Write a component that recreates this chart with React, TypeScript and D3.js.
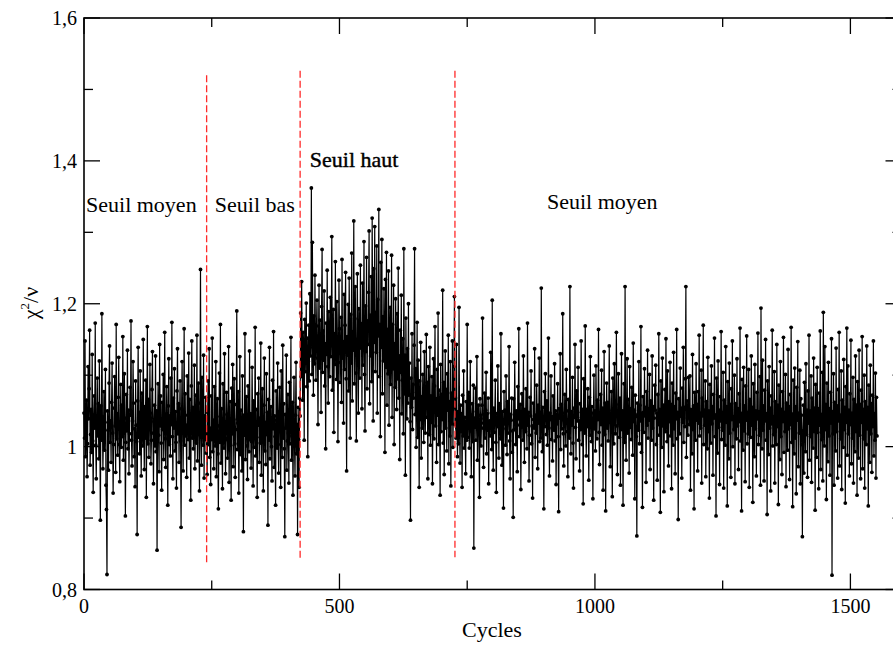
import React from "react";
import * as d3 from "d3";

// chi2/nu values (x1000), one per cycle, by regime
const seuilMoyen1 = [
  1047, 1012, 1148, 986, 1023, 1065, 958, 1004, 1112, 1039, 1081, 1163, 974, 1017, 1052, 992, 1129, 1008, 936, 1044,
  1071, 1026, 1173, 1002, 955, 1038, 1096, 1015, 1060, 983, 1120, 1031, 897, 1057, 1009, 1186, 1042, 969, 1013, 1077,
  995, 1034, 1108, 946, 912, 821, 1050, 1023, 967, 1089, 1141, 1006, 1036, 978, 1062, 1117, 1019, 935, 1003, 1054,
  1098, 1029, 964, 1171, 1011, 1046, 988, 1069, 1125, 1003, 951, 1033, 1087, 999, 1058, 1014, 1154, 981, 1027, 1102,
  1040, 903, 1006, 1073, 1022, 1135, 997, 1051, 962, 1018, 1083, 1044, 1176, 1009, 973, 1036, 1119, 1061, 986, 1025,
  944, 1092, 1030, 1007, 877, 1064, 1139, 1013, 1048, 990, 1106, 1021, 959, 1075, 1038, 1001, 1150, 1027, 968, 1056,
  1012, 1093, 929, 1041, 1168, 1004, 1066, 985, 1024, 1115, 1047, 976, 1009, 1080, 1133, 1019, 948, 1035, 1058, 1001,
  1127, 993, 1050, 855, 1037, 1088, 1016, 965, 1143, 1029, 1071, 1005, 939, 1062, 1024, 1101, 982, 1046, 1160, 1011,
  971, 1039, 1084, 1020, 918, 1057, 1123, 1003, 1043, 987, 1096, 1031, 1174, 1014, 955, 1068, 1026, 1109, 994, 1049,
  1006, 942, 1078, 1137, 1018, 1060, 978, 1035, 1092, 1008, 887, 1053, 1119, 1027, 966, 1041, 1165, 1002, 1074, 1015,
  1030, 957, 1099, 1044, 1010, 1131, 984, 1066, 1023, 925, 1085, 1148, 1012, 1055, 997, 1037, 1114, 969, 1021, 1072,
  1005, 1156, 980, 1046, 1089, 1017, 938, 1061, 1248, 1013, 974, 1097, 1032, 1002, 1128, 956, 1043, 1010, 1069, 991,
];

const seuilBas = [
  1019, 961, 1048, 1092, 1003, 1137, 985, 1026, 947, 1071, 1010, 1152, 993, 1037, 969, 1084, 1015, 1001, 1119, 958,
  1042, 1067, 990, 913, 1029, 1103, 1006, 1171, 977, 1053, 1014, 941, 1088, 1022, 998, 1130, 1035, 962, 1011, 1076,
  1045, 984, 1009, 1140, 950, 1031, 1063, 1002, 925, 1082, 1018, 1115, 972, 1038, 1095, 1004, 957, 1024, 1059, 1190,
  996, 1033, 1077, 935, 1012, 1126, 989, 1051, 1008, 966, 1099, 1027, 881, 1044, 1016, 1158, 982, 1039, 1070, 1001,
  954, 1085, 1023, 993, 1134, 1010, 1046, 970, 1007, 1111, 1036, 945, 1064, 999, 1020, 1167, 987, 1052, 1013, 929,
  1074, 1030, 1096, 978, 1040, 1005, 1145, 960, 1022, 1081, 1011, 938, 1058, 1124, 994, 1034, 975, 1102, 1017, 1048,
  890, 1066, 1009, 1139, 983, 1028, 1056, 1000, 952, 1093, 1025, 1161, 971, 1043, 1014, 918, 1078, 1037, 998, 1117,
  1003, 963, 1049, 1083, 1021, 943, 1106, 1032, 985, 1142, 1012, 1060, 997, 874, 1045, 1026, 1128, 967, 1008, 1073,
  1019, 949, 1090, 1004, 1039, 1153, 981, 1015, 1062, 932, 1027, 1097, 1001, 959, 1044, 1118, 990, 1031, 877, 1055,
  1010, 943, 1068,
];

const seuilHaut = [
  1043, 1187, 1098, 1231, 1122, 1065, 1160, 1143, 1009, 1178, 1105, 1136, 1201, 1084, 1152, 986, 1119, 1170, 1092, 1214,
  1127, 1158, 1362, 1101, 1286, 1139, 1072, 1183, 1116, 1240, 1148, 1093, 1169, 1205, 1124, 1031, 1155, 1226, 1110, 1177,
  1135, 1048, 1196, 1276, 1104, 1162, 1121, 1218, 1085, 1144, 997, 1173, 1129, 1247, 1112, 1061, 1189, 1150, 1098, 1209,
  1126, 1167, 1294, 1079, 1141, 1192, 1020, 1158, 1115, 1259, 1137, 1094, 1203, 1152, 1007, 1118, 1233, 1165, 1090, 1131,
  1181, 1062, 1262, 1124, 1147, 1033, 1213, 1108, 1170, 1244, 1095, 966, 1154, 1128, 1199, 1078, 1236, 1140, 1012, 1185,
  1117, 1271, 1064, 1161, 1135, 1316, 1088, 1179, 1224, 1103, 1008, 1150, 1242, 1119, 1047, 1193, 1166, 1096, 1254, 1138,
  1172, 1053, 1229, 1114, 1157, 1287, 1101, 1022, 1197, 1133, 1265, 1081, 1176, 1143, 1216, 1302, 1060, 1184, 1127, 1238,
  1091, 1320, 1163, 1036, 1249, 1146, 1308, 1105, 1188, 1132, 1281, 1047, 1206, 1155, 1332, 1098, 1171, 1014, 1258, 1139,
  1290, 1074, 1182, 1120, 1221, 1149, 992, 1234, 1111, 1272, 1058, 1164, 1102, 1246, 1030, 1156, 1195, 1087, 1134, 1268,
  1041, 1171, 1109, 1226, 1003, 1144, 1083, 1207, 1122, 1052, 1186, 1095, 1250, 1068, 1127, 982, 1163, 1104, 1212, 1046,
  1093, 1151, 1018, 1277, 1074, 1128, 960, 1180, 1086, 1039, 1137, 1061, 1200, 1072, 1117, 1035, 897, 1096, 1055, 1158,
  1024, 1087, 1068, 1142, 1277, 1045, 1109, 999, 1076, 1174, 1013, 1121, 1059, 943, 1092, 1038, 1146, 984, 1070, 1026,
  1101, 1050, 1006, 1133, 1064, 1019, 1082, 1157, 1041, 1090, 955, 1112, 1063, 1017, 1139, 1002, 1071, 1034, 1098, 948,
  1060, 1123, 1011, 1085, 1168, 1029, 1067, 978, 1108, 1044, 1187, 1003, 1079, 1056, 932, 1115, 1021, 1073, 1038, 1219,
  1005, 1090, 961, 1057, 1134, 1026, 1080, 994, 1102, 1051, 1156, 976, 1063, 1015, 1119, 945, 1075, 1032, 1148, 999,
  1054, 1112, 1210,
];

const seuilMoyen2 = [
  1031, 1068, 1012, 1143, 1026, 986, 1049, 1004, 1195, 1037, 977, 1058, 1021, 1046, 943, 1072, 1015, 1106, 998, 1041,
  1029, 962, 1063, 1009, 1171, 1013, 1052, 1076, 998, 1034, 1119, 1022, 958, 1044, 1060, 1007, 1086, 858, 1040, 1027,
  1082, 1009, 1049, 1126, 981, 1035, 1058, 1017, 929, 1067, 1044, 1001, 1033, 1058, 1180, 1026, 971, 1039, 1075, 1012,
  1051, 1104, 990, 1046, 1023, 1068, 948, 1030, 1036, 1015, 1132, 1047, 996, 1205, 1021, 967, 1054, 1020, 1047, 1093,
  1006, 936, 1046, 1028, 1113, 1041, 984, 1060, 1038, 1011, 1158, 1023, 974, 1049, 1025, 914, 1077, 1032, 1051, 1002,
  1099, 1036, 989, 1063, 1019, 1044, 1140, 1008, 955, 1045, 1037, 1068, 992, 1022, 901, 1067, 1024, 1118, 1047, 1003,
  1050, 1031, 965, 1084, 1039, 1165, 1014, 1030, 1059, 940, 1027, 1074, 1045, 1009, 1127, 1035, 978, 1052, 1021, 1081,
  1035, 997, 1173, 1030, 1048, 952, 1016, 1069, 1043, 1106, 1004, 1029, 928, 1061, 1038, 1026, 1137, 985, 1044, 1019,
  1086, 1041, 969, 1058, 1033, 1124, 1007, 1048, 1012, 1222, 1036, 993, 1055, 1030, 913, 1077, 1028, 1102, 1051, 1017,
  1064, 1002, 1043, 1152, 1026, 959, 1047, 1038, 1099, 1010, 1042, 980, 1071, 1034, 1023, 1116, 1008, 1050, 947, 1045,
  1032, 1088, 1014, 909, 1053, 1040, 1130, 996, 1059, 1025, 1047, 1186, 1018, 973, 1037, 1073, 1034, 1001, 1108, 1050,
  1021, 958, 1066, 1035, 1012, 1224, 1039, 990, 1049, 1030, 1097, 1005, 942, 1054, 1041, 1143, 1027, 983, 1078, 1036,
  1048, 1111, 1009, 1036, 966, 1060, 1024, 1148, 1041, 1003, 1052, 920, 1095, 1043, 1019, 1169, 1035, 987, 1052, 1028,
  1081, 1034, 953, 1069, 1016, 1126, 1040, 1007, 1056, 1032, 927, 1047, 1100, 1025, 1050, 994, 1113, 1038, 1011, 1065,
  1038, 1164, 1020, 975, 1046, 1073, 1031, 1107, 1002, 1054, 939, 1040, 1133, 1017, 1061, 910, 1045, 1089, 1026, 1062,
  1008, 1051, 1141, 1034, 972, 1040, 1077, 1022, 930, 1096, 1043, 1004, 1116, 1046, 1018, 1059, 1160, 1029, 961, 1042,
  1102, 1037, 1013, 1068, 946, 1049, 1130, 1024, 1050, 918, 1041, 1088, 1006, 1224, 1032, 981, 1054, 1123, 1019, 1066,
  1039, 963, 1112, 1027, 1053, 1010, 1083, 1046, 988, 1145, 1035, 1051, 927, 1072, 1042, 1014, 875, 1061, 1045, 1023,
  1119, 1004, 1058, 1036, 1168, 992, 1047, 915, 1070, 1048, 1020, 1109, 1043, 1055, 950, 1077, 1030, 1135, 1012, 1053,
  1037, 1101, 968, 1064, 1041, 1009, 1127, 1026, 1056, 925, 1040, 1086, 1051, 1114, 1003, 1047, 953, 1073, 1031, 1158,
  1016, 1052, 908, 1092, 1044, 999, 1124, 1029, 1058, 937, 1045, 1080, 1021, 1151, 1038, 1007, 1106, 1040, 973, 1063,
  1035, 1118, 1015, 1059, 941, 1089, 1037, 1002, 1132, 1025, 1056, 962, 1075, 1039, 1164, 1011, 1048, 898, 1067, 1042,
  1018, 1110, 1043, 1054, 956, 1082, 1034, 1139, 1006, 1055, 1028, 1095, 1224, 985, 1064, 1040, 1016, 1097, 1052, 1031,
  1099, 939, 1052, 1045, 990, 1129, 1024, 1057, 913, 1076, 1040, 1009, 1116, 1037, 1059, 966, 1077, 1033, 1156, 1015,
  1047, 1026, 1107, 949, 1068, 1043, 1170, 1003, 1051, 1030, 1092, 958, 1063, 1039, 997, 1125, 1021, 1050, 928, 1087,
  1038, 1005, 1113, 1032, 1056, 960, 1073, 1040, 1152, 1014, 1044, 903, 1096, 1045, 991, 1120, 1027, 1051, 947, 1070,
  1036, 1161, 1010, 1048, 1023, 1104, 942, 1065, 1049, 1002, 1140, 1034, 1056, 917, 1091, 1041, 983, 1117, 1019, 1059,
  957, 1081, 1038, 1148, 1000, 1042, 1024, 1100, 948, 1060, 1046, 1011, 1123, 1029, 1053, 968, 1074, 1035, 1166, 1008,
  1046, 910, 1094, 1047, 995, 1111, 1022, 1057, 951, 1085, 1037, 1155, 1004, 1048, 1018, 1108, 943, 1066, 1044, 1013,
  1127, 1030, 1055, 922, 1088, 1041, 986, 1115, 1025, 1050, 959, 1076, 1039, 1159, 1003, 1049, 1016, 1098, 946, 1194,
  1041, 997, 1121, 1023, 1057, 952, 1079, 1036, 1150, 1009, 1046, 905, 1092, 1045, 989, 1112, 1026, 1054, 938, 1071,
  1032, 1163, 1001, 1042, 1017, 1105, 949, 1063, 1050, 1003, 1143, 1028, 1058, 919, 1086, 1040, 982, 1119, 1014, 1052,
  961, 1077, 1035, 1153, 992, 1048, 1021, 1101, 944, 1061, 1043, 995, 1136, 1025, 1056, 954, 1073, 1031, 1167, 1006,
  1044, 916, 1093, 1046, 990, 1110, 1012, 1056, 934, 1083, 1037, 1147, 972, 1047, 1019, 1107, 948, 1067, 1044, 1003,
  874, 1022, 1058, 963, 1090, 1041, 993, 1116, 1017, 1051, 957, 1078, 1033, 1156, 981, 1050, 1014, 1099, 950, 1068,
  1039, 998, 1124, 1021, 1054, 911, 1087, 1045, 985, 1111, 1020, 1053, 941, 1075, 1030, 1162, 968, 1045, 1010, 1104,
  952, 1188, 1036, 1001, 1140, 1024, 1059, 926, 1089, 1040, 979, 1118, 1015, 1053, 960, 1076, 1033, 1151, 820, 1049,
  1018, 1102, 946, 1062, 1043, 994, 1138, 1021, 1057, 956, 1080, 1036, 1160, 973, 1044, 1011, 1106, 940, 1065, 1046,
  999, 1122, 1024, 1055, 921, 1084, 1034, 1166, 988, 1113, 1018, 1051, 959, 1074, 1031, 1149, 976, 1047, 1012, 1097,
  949, 1066, 1042, 993, 1127, 1021, 1058, 932, 1091, 1049, 984, 1135, 1016, 1059, 955, 1079, 1034, 1154, 969, 1052,
  1011, 1100, 942, 1063, 1044, 1003, 1141, 1025, 1055, 917, 1086, 1038, 978, 1114, 1018, 1060, 964, 1072, 1028, 1148,
  987, 1046, 1009, 1103, 956, 1069, 1015,
];

const xTicksMajor = [0, 500, 1000, 1500];
const xTicksMinor = [250, 750, 1250];
const yTicksMajor = [0.8, 1.0, 1.2, 1.4, 1.6];
const yTickLabels = ["0,8", "1", "1,2", "1,4", "1,6"];
const yTicksMinor = [0.9, 1.1, 1.3, 1.5];

// regime change cycles and the value extent of the dashed markers
const boundaryCycles = [240, 423, 726];
const boundaryTop = [1.52, 1.526, 1.526];
const boundaryBottom = [0.837, 0.844, 0.845];

const regionLabels = ["Seuil moyen", "Seuil bas", "Seuil haut", "Seuil moyen"];
const regionLabelCycle = [4, 256, 442, 906];
const regionLabelValue = [1.328, 1.328, 1.391, 1.332];

const W = 893;
const H = 646;
const FONT = "Liberation Serif, Times New Roman, serif";

export default function App() {
  const values = [...seuilMoyen1, ...seuilBas, ...seuilHaut, ...seuilMoyen2].map(
    (v, i) => ({ cycle: i, chi: v / 1000 })
  );

  const x = d3.scaleLinear().domain([0, 1600]).range([84, 901.5]);
  const y = d3.scaleLinear().domain([0.8, 1.6]).range([589.5, 18]);

  const line = d3
    .line<{ cycle: number; chi: number }>()
    .x((d) => x(d.cycle))
    .y((d) => y(d.chi));

  const x0 = x(0);
  const x1 = x(1600);
  const y0 = y(0.8);
  const y1 = y(1.6);
  const majorLen = 16;
  const minorLen = 9;
  const txt = { fontFamily: FONT };

  return (
    <svg
      width={W}
      height={H}
      style={{ position: "absolute", left: 0, top: 0, background: "#fff" }}
    >
      <rect x={0} y={0} width={W} height={H} fill="#fff" />

      {/* data */}
      <path d={line(values) || ""} fill="none" stroke="#000" strokeWidth={1.2} strokeLinejoin="round" />
      {values.map((d) => (
        <circle key={d.cycle} cx={x(d.cycle)} cy={y(d.chi)} r={1.9} fill="#000" />
      ))}

      {/* regime boundaries */}
      {boundaryCycles.map((c, i) => (
        <line
          key={"b" + i}
          x1={x(c)}
          x2={x(c)}
          y1={y(boundaryTop[i])}
          y2={y(boundaryBottom[i])}
          stroke="#ff2a2a"
          strokeWidth={1.3}
          strokeDasharray="7,3"
        />
      ))}

      {/* frame */}
      <rect x={x0} y={y1} width={x1 - x0} height={y0 - y1} fill="none" stroke="#000" strokeWidth={1.6} />

      {/* x ticks (bottom & top, inward) */}
      {xTicksMajor.map((t) => (
        <g key={"xM" + t}>
          <line x1={x(t)} x2={x(t)} y1={y0} y2={y0 - majorLen} stroke="#000" strokeWidth={1.3} />
          <line x1={x(t)} x2={x(t)} y1={y1} y2={y1 + majorLen} stroke="#000" strokeWidth={1.3} />
          <text x={x(t)} y={613} textAnchor="middle" fontSize={20} fill="#000" style={txt}>
            {t}
          </text>
        </g>
      ))}
      {xTicksMinor.map((t) => (
        <g key={"xm" + t}>
          <line x1={x(t)} x2={x(t)} y1={y0} y2={y0 - minorLen} stroke="#000" strokeWidth={1.3} />
          <line x1={x(t)} x2={x(t)} y1={y1} y2={y1 + minorLen} stroke="#000" strokeWidth={1.3} />
        </g>
      ))}

      {/* y ticks (left & right, inward) */}
      {yTicksMajor.map((t, i) => (
        <g key={"yM" + t}>
          <line x1={x0} x2={x0 + majorLen} y1={y(t)} y2={y(t)} stroke="#000" strokeWidth={1.3} />
          <line x1={x1} x2={x1 - majorLen} y1={y(t)} y2={y(t)} stroke="#000" strokeWidth={1.3} />
          <text x={77} y={y(t) + 7} textAnchor="end" fontSize={20} fill="#000" style={txt}>
            {yTickLabels[i]}
          </text>
        </g>
      ))}
      {yTicksMinor.map((t) => (
        <g key={"ym" + t}>
          <line x1={x0} x2={x0 + minorLen} y1={y(t)} y2={y(t)} stroke="#000" strokeWidth={1.3} />
          <line x1={x1} x2={x1 - minorLen} y1={y(t)} y2={y(t)} stroke="#000" strokeWidth={1.3} />
        </g>
      ))}

      {/* axis titles */}
      <text x={492} y={637} textAnchor="middle" fontSize={22} fill="#000" style={txt}>
        Cycles
      </text>
      <text transform="translate(38,303) rotate(-90)" textAnchor="middle" fontSize={22} fill="#000" style={txt}>
        χ<tspan dy={-9} fontSize={13}>2</tspan>
        <tspan dy={9}>/ν</tspan>
      </text>

      {/* region labels */}
      {regionLabels.map((lab, i) => (
        <text
          key={"r" + i}
          x={x(regionLabelCycle[i])}
          y={y(regionLabelValue[i])}
          fontSize={22}
          fill="#000"
          stroke={i === 2 ? "#000" : "none"}
          strokeWidth={i === 2 ? 0.4 : 0}
          style={txt}
        >
          {lab}
        </text>
      ))}
    </svg>
  );
}
